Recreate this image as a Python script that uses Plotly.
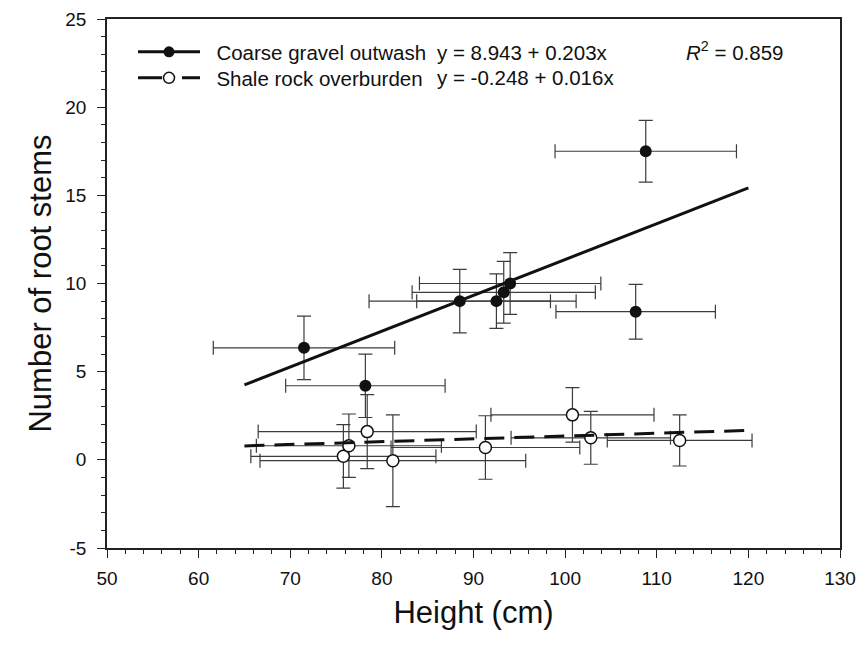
import plotly.graph_objects as go

# ---- data ----
coarse_x = [71.5, 78.2, 88.5, 92.5, 93.3, 94.0, 107.7, 108.8]
coarse_y = [6.35, 4.2, 9.0, 9.0, 9.5, 10.0, 8.4, 17.5]
coarse_xerr = [9.9, 8.7, 9.9, 8.7, 10.0, 9.9, 8.7, 9.9]
coarse_yerr = [1.8, 1.8, 1.8, 1.55, 1.75, 1.75, 1.55, 1.75]

shale_x = [75.8, 76.4, 78.4, 81.2, 91.3, 100.8, 102.8, 112.5]
shale_y = [0.2, 0.8, 1.6, -0.05, 0.7, 2.55, 1.25, 1.1]
shale_xerr = [10.1, 10.1, 11.9, 14.5, 10.3, 8.9, 8.7, 7.9]
shale_yerr = [1.8, 1.8, 2.1, 2.6, 1.8, 1.55, 1.5, 1.45]

fit_x = [65, 120]
coarse_fit_y = [4.25, 15.42]
shale_fit_y = [0.79, 1.67]

series_names = ["Coarse gravel outwash", "Shale rock overburden"]
equations = ["y = 8.943 + 0.203x", "y = -0.248 + 0.016x"]
r2_text = "<i>R</i><sup>2</sup> = 0.859"

x_ticks = [50, 60, 70, 80, 90, 100, 110, 120, 130]
y_ticks = [-5, 0, 5, 10, 15, 20, 25]
y_tick_labels = ["-5", "0", "5", "10", "15", "20", "25"]

FONT = "Liberation Sans, Arial, Helvetica, sans-serif"
ERR_COLOR = "#3c3c3c"
TXT = 20.5
PAD = "\u00a0\u00a0"

# plot area in pixels
L, R, T, B = 107, 840, 19, 548
W, H = R - L, B - T
ROWS = [52, 78]

fig = go.Figure()

def err(arr):
    return dict(type="data", array=arr, visible=True, color=ERR_COLOR,
                thickness=1.2, width=7)

fig.add_trace(go.Scatter(
    x=shale_x, y=shale_y, mode="markers", showlegend=False,
    error_x=err(shale_xerr), error_y=err(shale_yerr),
    marker=dict(symbol="circle", size=12, color="white",
                line=dict(color="#111111", width=1.5)),
))
fig.add_trace(go.Scatter(
    x=coarse_x, y=coarse_y, mode="markers", showlegend=False,
    error_x=err(coarse_xerr), error_y=err(coarse_yerr),
    marker=dict(symbol="circle", size=12, color="#111111",
                line=dict(color="#111111", width=0)),
))
fig.add_trace(go.Scatter(
    x=fit_x, y=shale_fit_y, mode="lines", showlegend=False,
    line=dict(color="#111111", width=3, dash="20px,10px"),
))
fig.add_trace(go.Scatter(
    x=fit_x, y=coarse_fit_y, mode="lines", showlegend=False,
    line=dict(color="#111111", width=3),
))

# legend entries (one legend per row so the row spacing can match)
fig.add_trace(go.Scatter(
    x=[None], y=[None], mode="lines+markers", name=PAD + series_names[0],
    line=dict(color="#111111", width=3), legend="legend",
    marker=dict(symbol="circle", size=11, color="#111111"),
))
fig.add_trace(go.Scatter(
    x=[None], y=[None], mode="lines+markers", name=PAD + series_names[1],
    line=dict(color="#111111", width=3, dash="24px,20px"), legend="legend2",
    marker=dict(symbol="circle", size=11, color="white",
                line=dict(color="#111111", width=1.5)),
))

for i, eq in enumerate(equations):
    fig.add_annotation(xref="paper", yref="paper", x=(435 - L) / W,
                       y=1 - (ROWS[i] - T) / H, text=eq,
                       showarrow=False, xanchor="left", yanchor="middle",
                       font=dict(size=TXT, color="#111111", family=FONT))
fig.add_annotation(xref="paper", yref="paper", x=(684 - L) / W,
                   y=1 - (ROWS[0] - 1 - T) / H, text=r2_text,
                   showarrow=False, xanchor="left", yanchor="middle",
                   font=dict(size=TXT, color="#111111", family=FONT))

axis_common = dict(
    showline=True, linecolor="#222222", linewidth=1.5, mirror=True,
    ticks="outside", ticklen=8, tickwidth=1.2, tickcolor="#222222",
    showgrid=False, zeroline=False, automargin=False,
    tickfont=dict(size=19, color="#111111", family=FONT),
)

fig.update_xaxes(range=[50, 130], tickvals=x_ticks,
                 minor=dict(dtick=2, ticks="outside", ticklen=4,
                            tickwidth=1, tickcolor="#222222"),
                 title=dict(text="Height (cm)", standoff=14,
                            font=dict(size=31, color="#111111", family=FONT)),
                 ticklabelstandoff=4,
                 **axis_common)
fig.update_yaxes(range=[-5, 25], tickvals=y_ticks, ticktext=y_tick_labels,
                 minor=dict(dtick=1, ticks="outside", ticklen=4,
                            tickwidth=1, tickcolor="#222222"),
                 title=dict(text="Number of root stems", standoff=4,
                            font=dict(size=31, color="#111111", family=FONT)),
                 ticklabelstandoff=7,
                 **axis_common)

legend_common = dict(x=(133 - L) / W, xanchor="left", yanchor="middle",
                     bgcolor="rgba(0,0,0,0)", borderwidth=0, itemwidth=62,
                     font=dict(size=TXT, color="#111111", family=FONT))

fig.update_layout(
    width=856, height=647,
    margin=dict(l=L, r=856 - R, t=T, b=647 - B),
    plot_bgcolor="white", paper_bgcolor="white",
    font=dict(family=FONT, color="#111111"),
    legend=dict(y=1 - (ROWS[0] - T) / H, **legend_common),
    legend2=dict(y=1 - (ROWS[1] - T) / H, **legend_common),
)

fig.write_html("out.html",
               config={"displayModeBar": False},
               post_script="document.body.style.margin='0';"
                           "document.body.style.padding='0';")
